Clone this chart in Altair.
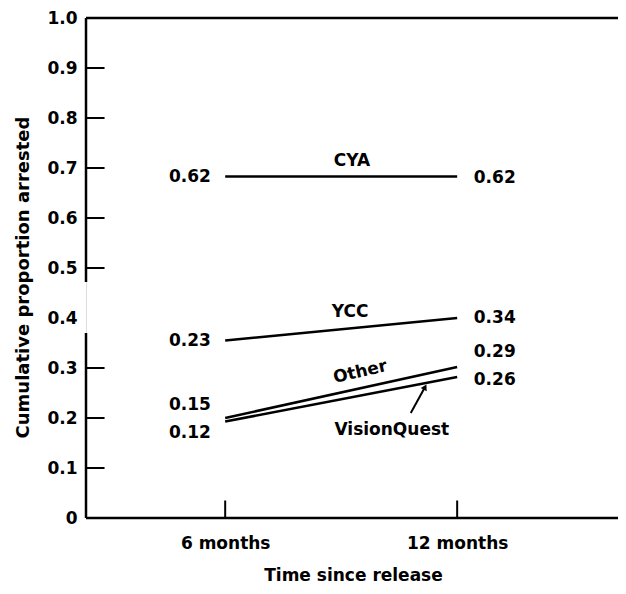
import altair as alt
import pandas as pd

# ---- data ----
months = [6, 12]
series = ["CYA", "YCC", "Other", "VisionQuest"]
cya = [0.683, 0.683]
ycc = [0.355, 0.400]
other = [0.200, 0.302]
visionquest = [0.193, 0.282]

# printed values next to the line ends
left_text = ["0.62", "0.23", "0.15", "0.12"]
right_text = ["0.62", "0.34", "0.29", "0.26"]
left_text_y = [0.683, 0.354, 0.226, 0.170]
right_text_y = [0.680, 0.400, 0.332, 0.276]

# series name labels
name_text = ["CYA", "YCC", "Other", "VisionQuest"]
name_x = [9.28, 9.23, 9.49, 10.31]
name_y = [0.714, 0.412, 0.292, 0.176]
name_angle = [0, 0, 347, 0]

y_tick_values = [0.1, 0.2, 0.3, 0.5, 0.6, 0.7, 0.8, 0.9]
y_label_values = [0, 0.1, 0.2, 0.3, 0.4, 0.5, 0.6, 0.7, 0.8, 0.9, 1.0]
x_label_values = [6, 12]

# ---- layout constants ----
X_MIN, X_MAX = 2.4, 16.16
LEFT_LABEL_X, RIGHT_LABEL_X = 5.63, 12.43
Y_TICK_LEN = 0.48
X_TICK_LEN = 0.035
BREAK_LOW, BREAK_HIGH = 0.37, 0.472
ARROW = [(10.80, 0.210), (11.17, 0.262)]

FONT = "DejaVu Sans"

xs = alt.Scale(domain=[X_MIN, X_MAX], nice=False, zero=False)
ys = alt.Scale(domain=[0, 1.0], nice=False, zero=False)

x_axis = alt.Axis(values=x_label_values, tickSize=0, domain=False, grid=False,
                  labelExpr="datum.value + ' months'", labelPadding=17,
                  labelFont=FONT, labelFontSize=17, labelFontWeight="bold",
                  labelColor="black",
                  title="Time since release", titleFont=FONT, titleFontSize=17,
                  titleFontWeight="bold", titleColor="black",
                  titleX=267, titleY=57, titleBaseline="middle", titleAlign="center")
y_axis = alt.Axis(values=y_label_values, tickSize=0, domain=False, grid=False,
                  labelExpr="datum.value == 0 ? '0' : format(datum.value, '.1f')",
                  labelPadding=9, labelFont=FONT, labelFontSize=17,
                  labelFontWeight="bold", labelColor="black",
                  title="Cumulative proportion arrested", titleFont=FONT,
                  titleFontSize=18, titleFontWeight="bold", titleColor="black",
                  titleAngle=270, titleX=-63, titleY=259, titleBaseline="middle",
                  titleAlign="center")


def X(field):
    return alt.X(field, scale=xs, axis=x_axis)


def Y(field):
    return alt.Y(field, scale=ys, axis=y_axis)


vals = {"CYA": cya, "YCC": ycc, "Other": other, "VisionQuest": visionquest}
lines_df = pd.DataFrame(
    [{"series": s, "x": m, "y": v} for s in series for m, v in zip(months, vals[s])]
)

lab_rows = []
for t, y in zip(left_text, left_text_y):
    lab_rows.append({"t": t, "x": LEFT_LABEL_X, "y": y, "side": "left"})
for t, y in zip(right_text, right_text_y):
    lab_rows.append({"t": t, "x": RIGHT_LABEL_X, "y": y, "side": "right"})
lab_df = pd.DataFrame(lab_rows)

names_df = pd.DataFrame({"t": name_text, "x": name_x, "y": name_y, "a": name_angle})

lines = alt.Chart(lines_df).mark_line(color="black", strokeWidth=2.6).encode(
    x=X("x:Q"), y=Y("y:Q"), detail="series:N",
)

frame_df = pd.DataFrame([
    {"x": X_MIN, "x2": X_MIN, "y": 0, "y2": BREAK_LOW},
    {"x": X_MIN, "x2": X_MIN, "y": BREAK_HIGH, "y2": 1.0},
    {"x": X_MIN, "x2": X_MAX, "y": 0, "y2": 0},
    {"x": X_MIN, "x2": X_MAX, "y": 1.0, "y2": 1.0},
])
frame = alt.Chart(frame_df).mark_rule(color="black", strokeWidth=2.5).encode(
    x=X("x:Q"), x2="x2:Q", y=Y("y:Q"), y2="y2:Q",
)

yt_df = pd.DataFrame({"y": y_tick_values, "x": X_MIN, "x2": X_MIN + Y_TICK_LEN})
yticks = alt.Chart(yt_df).mark_rule(color="black", strokeWidth=2).encode(
    x=X("x:Q"), x2="x2:Q", y=Y("y:Q"),
)

xt_df = pd.DataFrame({"x": x_label_values, "y": 0.0, "y2": X_TICK_LEN})
xticks = alt.Chart(xt_df).mark_rule(color="black", strokeWidth=2).encode(
    x=X("x:Q"), y=Y("y:Q"), y2="y2:Q",
)

left_labels = alt.Chart(lab_df[lab_df.side == "left"]).mark_text(
    font=FONT, fontSize=17, fontWeight="bold", align="right", baseline="middle", color="black"
).encode(x=X("x:Q"), y=Y("y:Q"), text="t:N")

right_labels = alt.Chart(lab_df[lab_df.side == "right"]).mark_text(
    font=FONT, fontSize=17, fontWeight="bold", align="left", baseline="middle", color="black"
).encode(x=X("x:Q"), y=Y("y:Q"), text="t:N")

names = alt.Chart(names_df).mark_text(
    font=FONT, fontSize=17, fontWeight="bold", align="center", baseline="middle", color="black"
).encode(
    x=X("x:Q"), y=Y("y:Q"), text="t:N", angle=alt.Angle("a:Q", scale=None),
)

arrow_df = pd.DataFrame({"x": [ARROW[0][0]], "y": [ARROW[0][1]],
                         "x2": [ARROW[1][0]], "y2": [ARROW[1][1]]})
arrow_line = alt.Chart(arrow_df).mark_rule(color="black", strokeWidth=2).encode(
    x=X("x:Q"), x2="x2:Q", y=Y("y:Q"), y2="y2:Q",
)
arrow_tip = pd.DataFrame({"x": [ARROW[1][0]], "y": [ARROW[1][1]]})
arrow_head = alt.Chart(arrow_tip).mark_point(
    shape="triangle-up", filled=True, color="black", size=45, angle=28, opacity=1
).encode(x=X("x:Q"), y=Y("y:Q"))

chart = alt.layer(
    lines, frame, yticks, xticks, left_labels, right_labels, names, arrow_line, arrow_head
).properties(
    width=532, height=500,
    autosize=alt.AutoSizeParams(type="none"),
    padding={"left": 78, "top": 10, "right": 0, "bottom": 68},
).configure_view(stroke=None).configure(background="white")

chart.save("out.html", embed_options={"renderer": "svg", "actions": False})
